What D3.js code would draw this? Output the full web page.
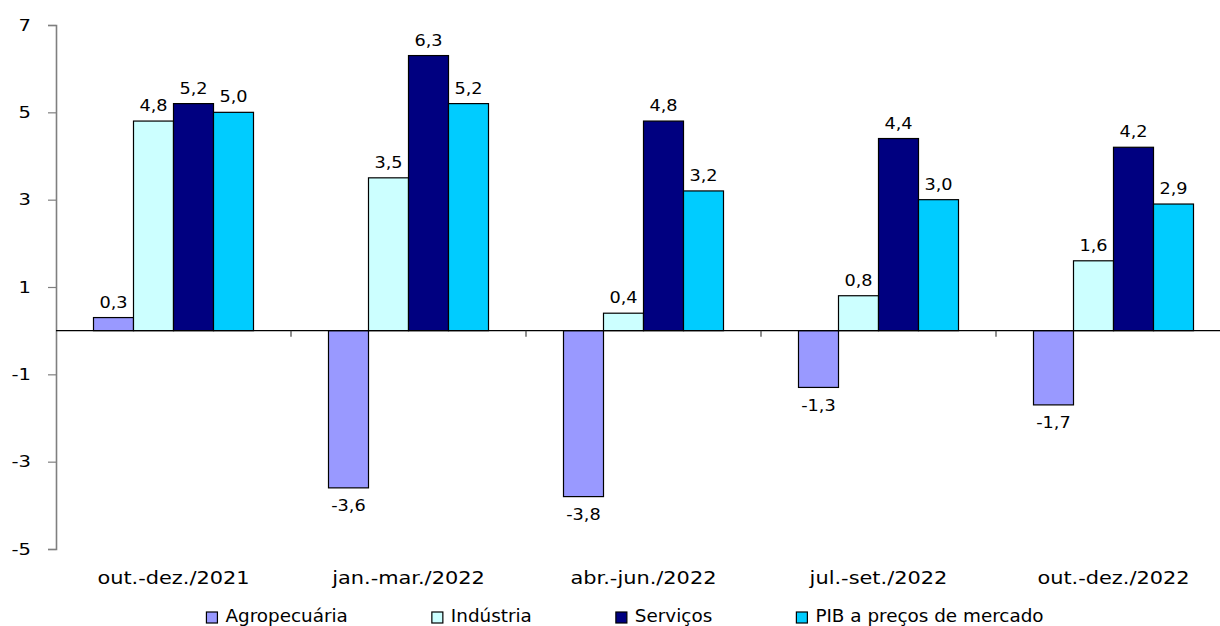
<!DOCTYPE html>
<html>
<head>
<meta charset="utf-8">
<script src="https://cdn.jsdelivr.net/npm/d3@7"></script>
<style>
  html, body { margin: 0; padding: 0; background: #fff; }
  svg text { font-family: "DejaVu Sans", Verdana, sans-serif; fill: #000; }
</style>
</head>
<body>
<svg id="chart" width="1220" height="626"></svg>
<script>
// Quarterly growth by sector (%)
const categories = ["out.-dez./2021", "jan.-mar./2022", "abr.-jun./2022", "jul.-set./2022", "out.-dez./2022"];
const seriesNames = ["Agropecuária", "Indústria", "Serviços", "PIB a preços de mercado"];
const agropecuaria = [0.3, -3.6, -3.8, -1.3, -1.7];
const industria = [4.8, 3.5, 0.4, 0.8, 1.6];
const servicos = [5.2, 6.3, 4.8, 4.4, 4.2];
const pib = [5.0, 5.2, 3.2, 3.0, 2.9];
const yTicks = [-5, -3, -1, 1, 3, 5, 7];
const colors = ["#9999FF", "#CCFFFF", "#000080", "#00CCFF"];

const seriesValues = [agropecuaria, industria, servicos, pib];
const fmt = v => v.toFixed(1).replace(".", ",");

// widen glyphs horizontally by factor k (wide sans look)
function widen(sel, k) {
  sel.each(function () {
    const len = this.getComputedTextLength();
    d3.select(this).attr("textLength", len * k).attr("lengthAdjust", "spacingAndGlyphs");
  });
}

const svg = d3.select("#chart");
const W = 1220, H = 626;
const plotLeft = 56, plotRight = 1231, plotTop = 25, plotBottom = 549;

const x0 = d3.scaleBand().domain(categories).range([plotLeft, plotRight]).paddingInner(0).paddingOuter(0);
const x1 = d3.scaleBand().domain(seriesNames).range([0, x0.bandwidth()]).paddingInner(0).paddingOuter(0.9375);
const y = d3.scaleLinear().domain([-5, 7]).range([plotBottom, plotTop]);

// y axis
const yAxis = d3.axisLeft(y).tickValues(yTicks).tickSize(8).tickPadding(17).tickFormat(d => d);
const gy = svg.append("g").attr("transform", `translate(${plotLeft},0)`).call(yAxis);
gy.select(".domain").attr("stroke", "#7f7f7f").attr("stroke-width", 1.6);
gy.selectAll(".tick line").attr("stroke", "#7f7f7f").attr("stroke-width", 1.2);
gy.selectAll(".tick text").style("font-size", "16px").attr("fill", "#000").attr("font-family", null);
widen(gy.selectAll(".tick text"), 1.22);

// bars
const rows = categories.map((c, i) => ({ cat: c, vals: seriesNames.map((s, j) => ({ s, j, v: seriesValues[j][i] })) }));
const groups = svg.append("g").selectAll("g").data(rows).join("g")
  .attr("transform", d => `translate(${x0(d.cat)},0)`);

groups.selectAll("rect").data(d => d.vals).join("rect")
  .attr("x", d => x1(d.s))
  .attr("width", x1.bandwidth())
  .attr("y", d => y(Math.max(0, d.v)))
  .attr("height", d => Math.abs(y(d.v) - y(0)))
  .attr("fill", d => colors[d.j])
  .attr("stroke", "#000")
  .attr("stroke-width", 1.2);

const valueLabels = groups.selectAll("text.val").data(d => d.vals).join("text")
  .attr("class", "val")
  .attr("x", d => x1(d.s) + x1.bandwidth() / 2)
  .attr("y", d => d.v >= 0 ? y(d.v) - 10 : y(d.v) + 23.5)
  .attr("text-anchor", "middle")
  .style("font-size", "15px")
  .text(d => fmt(d.v));
widen(valueLabels, 1.18);

// zero line with category separators
svg.append("line").attr("x1", plotLeft).attr("x2", W).attr("y1", y(0)).attr("y2", y(0))
  .attr("stroke", "#000").attr("stroke-width", 1.2);
svg.append("g").selectAll("line").data(categories.slice(1)).join("line")
  .attr("x1", d => x0(d)).attr("x2", d => x0(d))
  .attr("y1", y(0)).attr("y2", y(0) + 6)
  .attr("stroke", "#444").attr("stroke-width", 1.2);

// category labels
const catLabels = svg.append("g").selectAll("text").data(categories).join("text")
  .attr("x", d => x0(d) + x0.bandwidth() / 2)
  .attr("y", 584)
  .attr("text-anchor", "middle")
  .style("font-size", "18px")
  .text(d => d);
widen(catLabels, 1.16);

// legend
const legend = svg.append("g");
const items = legend.selectAll("g").data(seriesNames).join("g");
items.append("rect").attr("width", 11).attr("height", 11).attr("y", -10)
  .attr("fill", (d, i) => colors[i]).attr("stroke", "#000").attr("stroke-width", 1.2);
const legendText = items.append("text").attr("x", 19).attr("y", 0).style("font-size", "17px").text(d => d);
widen(legendText, 1.08);
let cx = 0;
const gap = 84;
items.each(function () {
  d3.select(this).attr("transform", `translate(${cx},0)`);
  cx += this.getBBox().width + gap;
});
const total = cx - gap;
legend.attr("transform", `translate(${625 - total / 2},622)`);
</script>
</body>
</html>
